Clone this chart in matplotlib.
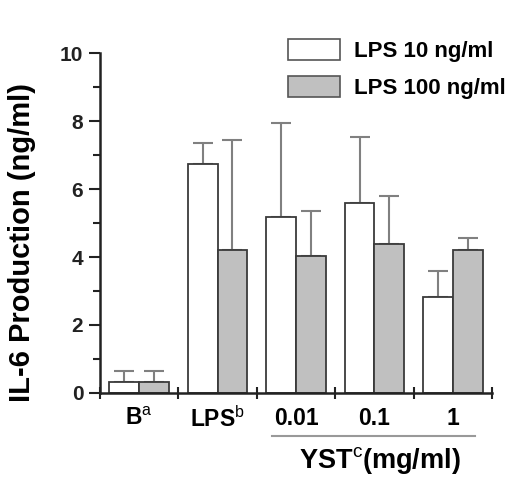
import matplotlib
matplotlib.use("Agg")
import matplotlib.pyplot as plt
import matplotlib.transforms as mtransforms
from matplotlib.patches import Patch
import numpy as np

plt.rcParams['font.family'] = ['Liberation Sans', 'DejaVu Sans']
plt.rcParams['mathtext.fontset'] = 'custom'
plt.rcParams['mathtext.rm'] = 'Liberation Sans'

categories = [r'B$^{\mathrm{a}}$', r'LPS$^{\mathrm{b}}$', '0.01', '0.1', '1']
series_names = ['LPS 10 ng/ml', 'LPS 100 ng/ml']
lps10 = [0.32, 6.74, 5.17, 5.60, 2.83]
lps10_err = [0.32, 0.62, 2.78, 1.95, 0.76]
lps100 = [0.33, 4.22, 4.04, 4.39, 4.22]
lps100_err = [0.31, 3.23, 1.33, 1.41, 0.33]
yticks = [0, 2, 4, 6, 8, 10]

fig = plt.figure(figsize=(5.23, 4.92), dpi=100)
ax = fig.add_axes([100/523, 1-392.7/492, 392/523, 339.2/492])

x = np.arange(len(categories))
w = 0.38
edge = '#3a3a3a'
ecol = '#808080'
ax.bar(x - w/2, lps10, w, color='white', edgecolor=edge, linewidth=1.3, zorder=2)
ax.bar(x + w/2, lps100, w, color='#c0c0c0', edgecolor=edge, linewidth=1.3, zorder=2)
ax.errorbar(x - w/2, lps10, yerr=[np.zeros(len(x)), lps10_err], fmt='none',
            ecolor=ecol, elinewidth=1.5, capsize=7, capthick=1.5, zorder=1)
ax.errorbar(x + w/2, lps100, yerr=[np.zeros(len(x)), lps100_err], fmt='none',
            ecolor=ecol, elinewidth=1.5, capsize=7, capthick=1.5, zorder=1)

ax.set_xlim(-0.5, len(categories) - 0.5)
ax.set_ylim(0, 10)
for s in ['top', 'right']:
    ax.spines[s].set_visible(False)
for s in ['left', 'bottom']:
    ax.spines[s].set_linewidth(1.8)
    ax.spines[s].set_color('#222222')

ax.set_yticks(yticks)
ax.set_yticks([1, 3, 5, 7, 9], minor=True)
ax.tick_params(axis='y', which='major', length=8, width=1.5, direction='out',
               labelsize=15, pad=4, colors='#222222')
ax.tick_params(axis='y', which='minor', length=5, width=1.5, direction='out', colors='#222222')
for lab in ax.get_yticklabels():
    lab.set_fontweight('bold')

ax.set_xticks(np.arange(len(categories) + 1) - 0.5)
ax.set_xticklabels([])
ax.set_xticks(x, minor=True)
ax.set_xticklabels(categories, minor=True, fontsize=16.5, fontweight='bold')
ax.tick_params(axis='x', which='major', length=9, width=1.5, direction='inout', colors='#222222')
ax.tick_params(axis='x', which='minor', length=0, pad=10)

fig.text(22/523, 1-243/492, 'IL-6 Production (ng/ml)', rotation=90, ha='center', va='center',
         fontsize=21, fontweight='bold')

trans = mtransforms.blended_transform_factory(ax.transData, ax.transAxes)
ax.plot([1.69, 4.28], [-0.128, -0.128], transform=trans, color='#999999',
        linewidth=1.5, clip_on=False)
ax.text(3.07, -0.2, r'YST$^{\mathrm{c}}$(mg/ml)', transform=trans, ha='center', va='center',
        fontsize=19.5, fontweight='bold')

handles = [Patch(facecolor='white', edgecolor='#555555', linewidth=1.2),
           Patch(facecolor='#c0c0c0', edgecolor='#555555', linewidth=1.2)]
leg = fig.legend(handles, series_names, loc='upper left', bbox_to_anchor=(288/523, 1-39/492),
                 frameon=False, prop={'weight': 'bold', 'size': 16}, borderpad=0,
                 borderaxespad=0, handlelength=2.35, handleheight=1.1, handletextpad=0.6,
                 labelspacing=0.6)

fig.savefig('out.png', dpi=100)
